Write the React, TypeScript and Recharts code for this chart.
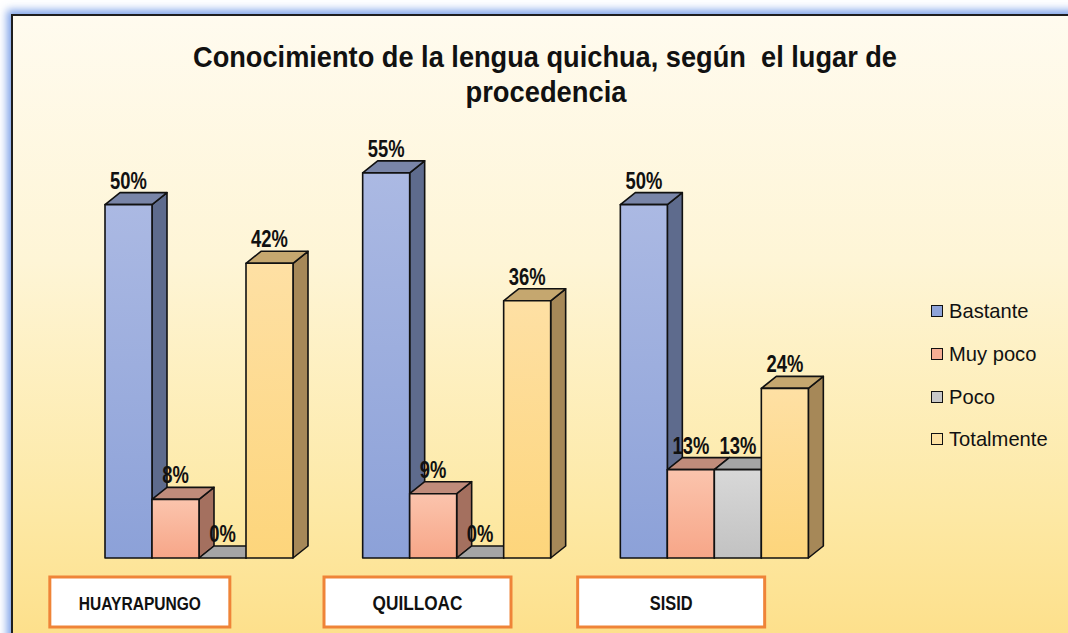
import { BarChart, Bar, XAxis, YAxis, LabelList } from 'recharts';

// lugar de procedencia
const places = ['HUAYRAPUNGO', 'QUILLOAC', 'SISID'];

// porcentajes por grupo
const bastante = [50, 54.5, 50];
const muyPoco = [8.3, 9.1, 12.5];
const poco = [0, 0, 12.5];
const totalmente = [41.7, 36.4, 24];

const seriesNames = ['Bastante', 'Muy poco', 'Poco', 'Totalmente'];

const data = places.map((place, i) => ({
  place,
  Bastante: bastante[i],
  'Muy poco': muyPoco[i],
  Poco: poco[i],
  Totalmente: totalmente[i],
}));

const palette = [
  { top: '#abb9e3', bottom: '#8ca1d8', side: '#5e6b8d', cap: '#7985a8', swatch: '#8ea3d9' },
  { top: '#fbc4ad', bottom: '#f7a688', side: '#a4705f', cap: '#c08c7b', swatch: '#f5ad93' },
  { top: '#d8d8d8', bottom: '#c2c2c2', side: '#8a8a8a', cap: '#a5a5a5', swatch: '#c8c8c8' },
  { top: '#fee0a4', bottom: '#fdd57b', side: '#a68858', cap: '#c5a76f', swatch: '#fde1a2' },
];

const DX = 15;
const DY = 12;
const SANS = "'Liberation Sans', Arial, sans-serif";

// narrow bold text (no Arial Narrow here, so squeeze it)
function NarrowText({ x, y, size, squeeze = 0.8, children, baseline }: any) {
  return (
    <text
      transform={`translate(${x},${y}) scale(${squeeze},1)`}
      textAnchor="middle"
      dominantBaseline={baseline}
      fontFamily={SANS}
      fontWeight="bold"
      fontSize={size}
      fill="#111"
    >
      {children}
    </text>
  );
}

function Box3D(props: any) {
  const { x, y, width, height, idx } = props;
  const c = palette[idx];
  const w = width;
  const h = Math.max(height, 0);
  return (
    <g stroke="#111" strokeWidth={1.6} strokeLinejoin="round">
      <polygon
        points={`${x + w},${y} ${x + w + DX},${y - DY} ${x + w + DX},${y + h - DY} ${x + w},${y + h}`}
        fill={c.side}
      />
      <polygon
        points={`${x},${y} ${x + DX},${y - DY} ${x + w + DX},${y - DY} ${x + w},${y}`}
        fill={c.cap}
      />
      {h > 0 && <rect x={x} y={y} width={w} height={h} fill={`url(#front${idx})`} />}
    </g>
  );
}

function ValueLabel(props: any) {
  const { x, y, width, value } = props;
  return (
    <NarrowText x={x + width / 2} y={y - DY - 4} size={23} squeeze={0.8}>
      {Math.round(value)}%
    </NarrowText>
  );
}

const boxShift = [-59, -39, -43];
const boxWidth = [180, 187, 187];
const boxFont = [19, 21, 20];

function PlaceTick(props: any) {
  const { x, y, payload, index } = props;
  const cx = x + boxShift[index];
  const bw = boxWidth[index];
  return (
    <g>
      <rect x={cx - bw / 2} y={y + 11} width={bw} height={50} fill="#fff" stroke="#ef8438" strokeWidth={3} />
      <NarrowText x={cx} y={y + 37} size={boxFont[index]} squeeze={0.82} baseline="central">
        {payload.value}
      </NarrowText>
    </g>
  );
}

export default function App() {
  return (
    <div
      style={{
        position: 'absolute',
        left: 0,
        top: 0,
        width: 1068,
        height: 633,
        overflow: 'hidden',
        background: '#fff',
      }}
    >
      <div
        style={{
          position: 'absolute',
          left: 11,
          top: 14,
          width: 1100,
          height: 700,
          borderLeft: '2px solid #1e1e1e',
          borderTop: '2px solid #1e1e1e',
          boxShadow: '-4px -4px 8px rgba(95,140,228,0.8)',
          background:
            'linear-gradient(to bottom, #fffbef 0%, #fef5d6 35%, #fde9a6 70%, #fde08c 88%, #fde8a8 100%)',
        }}
      />
      <div style={{ position: 'absolute', left: 0, top: 0 }}>
        <BarChart
          width={1068}
          height={633}
          data={data}
          margin={{ top: 134, right: 225, bottom: 0, left: 70 }}
          barGap={0}
          barSize={47}
        >
          <defs>
            {palette.map((c, i) => (
              <linearGradient key={i} id={`front${i}`} x1="0" y1="0" x2="0" y2="1">
                <stop offset="0%" stopColor={c.top} />
                <stop offset="100%" stopColor={c.bottom} />
              </linearGradient>
            ))}
          </defs>
          <XAxis
            dataKey="place"
            axisLine={false}
            tickLine={false}
            height={75}
            interval={0}
            tick={(p: any) => <PlaceTick {...p} />}
          />
          <YAxis hide domain={[0, 60]} />
          {seriesNames.map((name, i) => (
            <Bar
              key={name}
              dataKey={name}
              isAnimationActive={false}
              shape={(p: any) => <Box3D {...p} idx={i} />}
            >
              <LabelList dataKey={name} content={(p: any) => <ValueLabel {...p} />} />
            </Bar>
          ))}
        </BarChart>
      </div>
      <svg
        width={1068}
        height={633}
        style={{ position: 'absolute', left: 0, top: 0, pointerEvents: 'none' }}
      >
        <text
          x={545}
          y={67}
          textAnchor="middle"
          fontFamily={SANS}
          fontWeight="bold"
          fontSize={29}
          textLength={704}
          lengthAdjust="spacingAndGlyphs"
          fill="#111"
          style={{ whiteSpace: 'pre' }}
        >
          {'Conocimiento de la lengua quichua, según  el lugar de'}
        </text>
        <text
          x={546}
          y={102}
          textAnchor="middle"
          fontFamily={SANS}
          fontWeight="bold"
          fontSize={29}
          textLength={161}
          lengthAdjust="spacingAndGlyphs"
          fill="#111"
        >
          procedencia
        </text>
      </svg>
      <div style={{ position: 'absolute', left: 931, top: 290, fontFamily: SANS, fontSize: 21, color: '#111' }}>
        {seriesNames.map((name, i) => (
          <div key={name} style={{ display: 'flex', alignItems: 'center', height: 42.7 }}>
            <span
              style={{
                display: 'inline-block',
                width: 10,
                height: 10,
                border: '1.5px solid #111',
                background: palette[i].swatch,
                marginRight: 6,
              }}
            />
            <span style={{ display: 'inline-block', transform: 'scaleX(0.96)', transformOrigin: 'left center' }}>
              {name}
            </span>
          </div>
        ))}
      </div>
    </div>
  );
}
